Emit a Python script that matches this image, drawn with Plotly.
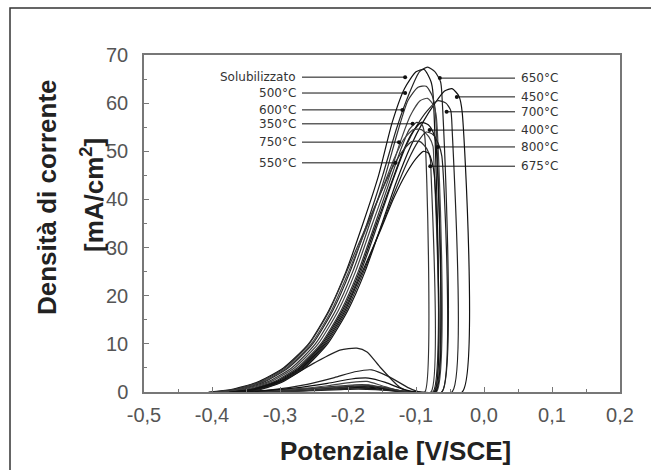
import plotly.graph_objects as go

# ---------------- data (potential V/SCE, current density mA/cm2) ----------------
E_sol = [-0.405, -0.372, -0.334, -0.295, -0.258, -0.228, -0.203, -0.178, -0.155, -0.135, -0.117, -0.100, -0.088, -0.078, -0.075, -0.075,
         -0.10, -0.12, -0.14, -0.17, -0.20, -0.24, -0.29, -0.35, -0.40]
I_sol = [0, 0.5, 2, 5, 10, 17, 25, 35, 45, 56, 63, 66.5, 67, 64.5, 62, 0,
         0, 0.1, 0.5, 1.0, 1.1, 0.8, 0.4, 0.1, 0]

E_650 = [-0.395, -0.362, -0.325, -0.288, -0.252, -0.222, -0.197, -0.172, -0.149, -0.128, -0.110, -0.095, -0.083, -0.072, -0.064, -0.062, -0.062,
         -0.105, -0.124, -0.153, -0.172, -0.187, -0.212, -0.25, -0.29, -0.33, -0.38]
I_650 = [0, 0.5, 2, 5, 10, 17, 25, 35, 45, 55, 62, 66.5, 67.5, 66.5, 64.5, 62, 0,
         0, 1.0, 5.2, 8.3, 9.1, 8.7, 6.0, 2.8, 0.9, 0.1]

E_500 = [-0.39, -0.357, -0.32, -0.283, -0.248, -0.218, -0.193, -0.168, -0.145, -0.127, -0.112, -0.097, -0.085, -0.076, -0.072, -0.072,
         -0.10, -0.12, -0.15, -0.175, -0.20, -0.24, -0.29, -0.34, -0.39]
I_500 = [0, 0.5, 2, 5, 10, 17, 25, 35, 45, 54, 60.5, 63.3, 63.5, 61.5, 59, 0,
         0, 0.2, 0.9, 1.5, 1.4, 0.9, 0.4, 0.1, 0]

E_450 = [-0.36, -0.33, -0.298, -0.264, -0.23, -0.2, -0.175, -0.15, -0.128, -0.108, -0.09, -0.072, -0.058, -0.047, -0.037, -0.032, -0.032,
         -0.09, -0.12, -0.145, -0.17, -0.20, -0.24, -0.29, -0.34]
I_450 = [0, 0.5, 2, 5, 10, 17, 25, 35, 44, 51, 56, 60, 62.5, 63, 61.5, 58, 0,
         0, 0.2, 0.7, 1.2, 1.0, 0.6, 0.2, 0]

E_600 = [-0.385, -0.352, -0.316, -0.279, -0.244, -0.214, -0.189, -0.164, -0.141, -0.123, -0.108, -0.094, -0.083, -0.074, -0.070, -0.070,
         -0.10, -0.125, -0.15, -0.172, -0.195, -0.23, -0.28, -0.33, -0.38]
I_600 = [0, 0.5, 2, 5, 10, 17, 25, 35, 44, 52, 57.5, 60.5, 61, 59.5, 57, 0,
         0, 0.3, 1.3, 2.2, 2.0, 1.3, 0.6, 0.2, 0]

E_700 = [-0.37, -0.338, -0.305, -0.27, -0.236, -0.206, -0.181, -0.156, -0.134, -0.115, -0.098, -0.083, -0.068, -0.056, -0.049, -0.047, -0.047,
         -0.095, -0.11, -0.14, -0.165, -0.19, -0.22, -0.26, -0.31, -0.36]
I_700 = [0, 0.5, 2, 5, 10, 17, 25, 35, 44, 51, 55.5, 58.5, 60.5, 60, 58.5, 55, 0,
         0, 0.8, 3.2, 4.6, 4.2, 3.0, 1.6, 0.5, 0]

E_350 = [-0.38, -0.347, -0.311, -0.275, -0.24, -0.21, -0.185, -0.16, -0.138, -0.122, -0.11, -0.099, -0.091, -0.087, -0.087,
         -0.10, -0.13, -0.16, -0.185, -0.21, -0.25, -0.30, -0.36]
I_350 = [0, 0.5, 2, 5, 10, 17, 25, 35, 44, 50.5, 54.5, 56, 55.5, 53, 0,
         0, 0.2, 0.6, 0.8, 0.7, 0.4, 0.1, 0]

E_400 = [-0.375, -0.343, -0.308, -0.272, -0.238, -0.208, -0.183, -0.158, -0.136, -0.119, -0.105, -0.092, -0.082, -0.075, -0.071, -0.071,
         -0.10, -0.13, -0.16, -0.185, -0.21, -0.25, -0.30, -0.36]
I_400 = [0, 0.5, 2, 5, 10, 17, 25, 35, 43.5, 50, 54, 56, 55.5, 54, 52, 0,
         0, 0.2, 0.7, 0.9, 0.8, 0.5, 0.1, 0]

E_750 = [-0.395, -0.365, -0.328, -0.29, -0.254, -0.224, -0.199, -0.173, -0.15, -0.132, -0.118, -0.104, -0.092, -0.081, -0.075, -0.074, -0.074,
         -0.105, -0.125, -0.15, -0.17, -0.19, -0.22, -0.26, -0.31, -0.36]
I_750 = [0, 0.5, 2, 5, 10, 17, 25, 34, 42, 48.5, 52.5, 54.5, 54.5, 53, 51, 49, 0,
         0, 0.3, 1.0, 1.5, 1.4, 1.0, 0.5, 0.1, 0]

E_800 = [-0.365, -0.333, -0.3, -0.266, -0.232, -0.202, -0.177, -0.152, -0.13, -0.112, -0.097, -0.085, -0.075, -0.067, -0.062, -0.062,
         -0.10, -0.13, -0.16, -0.185, -0.21, -0.25, -0.30, -0.35]
I_800 = [0, 0.5, 2, 5, 10, 17, 25, 34, 42, 48, 52, 54, 53.5, 51.5, 49, 0,
         0, 0.2, 0.5, 0.6, 0.5, 0.3, 0.1, 0]

E_550 = [-0.40, -0.368, -0.331, -0.293, -0.257, -0.227, -0.202, -0.176, -0.153, -0.135, -0.12, -0.106, -0.094, -0.084, -0.079, -0.078, -0.078,
         -0.105, -0.125, -0.15, -0.175, -0.20, -0.24, -0.29, -0.35]
I_550 = [0, 0.5, 2, 5, 10, 17, 25, 33.5, 41, 46.5, 50, 52, 52, 50.5, 48.5, 46, 0,
         0, 0.3, 1.0, 1.3, 1.0, 0.5, 0.1, 0]

E_675 = [-0.37, -0.338, -0.303, -0.268, -0.234, -0.204, -0.179, -0.154, -0.132, -0.114, -0.1, -0.089, -0.081, -0.076, -0.073, -0.073,
         -0.10, -0.12, -0.145, -0.17, -0.195, -0.23, -0.28, -0.33, -0.37]
I_675 = [0, 0.5, 2, 5, 10, 17, 25, 33, 40.5, 45.5, 48.5, 50, 49.5, 47.5, 45, 0,
         0, 0.6, 2.0, 2.9, 2.7, 1.8, 0.8, 0.2, 0]

# label texts and the curve points they point at
left_labels = ["Solubilizzato", "500°C", "600°C", "350°C", "750°C", "550°C"]
left_label_E = [-0.116, -0.116, -0.12, -0.105, -0.125, -0.13]
left_label_I = [65.4, 62.1, 58.6, 55.7, 51.9, 47.6]

right_labels = ["650°C", "450°C", "700°C", "400°C", "800°C", "675°C"]
right_label_E = [-0.065, -0.04, -0.055, -0.08, -0.068, -0.079]
right_label_I = [65.2, 61.3, 58.2, 54.4, 50.9, 46.9]

x_tick_vals = [-0.5, -0.4, -0.3, -0.2, -0.1, 0.0, 0.1, 0.2]
x_tick_text = ["-0,5", "-0,4", "-0,3", "-0,2", "-0,1", "0,0", "0,1", "0,2"]
y_tick_vals = [0, 10, 20, 30, 40, 50, 60, 70]

series = [
    ("Solubilizzato", E_sol, I_sol), ("650°C", E_650, I_650), ("500°C", E_500, I_500),
    ("450°C", E_450, I_450), ("600°C", E_600, I_600), ("700°C", E_700, I_700),
    ("350°C", E_350, I_350), ("400°C", E_400, I_400), ("750°C", E_750, I_750),
    ("800°C", E_800, I_800), ("550°C", E_550, I_550), ("675°C", E_675, I_675),
]

# ---------------- figure ----------------
W, H = 651, 470
L, R, T, B = 144, 620, 55, 392   # plot area in pixels
XMIN, XMAX, YMIN, YMAX = -0.5, 0.2, 0, 70


def px_to_x(px):
    return XMIN + (px - L) / (R - L) * (XMAX - XMIN)


def px_to_paper_x(px):
    return (px - L) / (R - L)


def py_to_paper_y(py):
    return (B - py) / (B - T)


fig = go.Figure()
line_colors = ["#111111", "#222222", "#333333", "#111111", "#444444", "#222222",
               "#333333", "#111111", "#444444", "#222222", "#333333", "#111111"]
for (name, ex, iy), col in zip(series, line_colors):
    fig.add_trace(go.Scatter(x=ex, y=iy, mode="lines", name=name,
                             line=dict(color=col, width=1.2, shape="spline", smoothing=0.6),
                             hoverinfo="skip", showlegend=False))

# leader lines
x_left_start = px_to_x(302)
x_right_end = px_to_x(515)
shapes = []
for e, i in zip(left_label_E, left_label_I):
    shapes.append(dict(type="line", xref="x", yref="y", x0=x_left_start, x1=e, y0=i, y1=i,
                       line=dict(color="#111", width=1)))
for e, i in zip(right_label_E, right_label_I):
    shapes.append(dict(type="line", xref="x", yref="y", x0=e, x1=x_right_end, y0=i, y1=i,
                       line=dict(color="#111", width=1)))

# outer frame
shapes.append(dict(type="rect", xref="paper", yref="paper",
                   x0=px_to_paper_x(10), x1=px_to_paper_x(720),
                   y0=py_to_paper_y(540), y1=py_to_paper_y(8),
                   line=dict(color="#333", width=1.5), fillcolor="rgba(0,0,0,0)", layer="below"))

fig.add_trace(go.Scatter(x=left_label_E + right_label_E, y=left_label_I + right_label_I, mode="markers",
                         marker=dict(color="#111", size=4), hoverinfo="skip", showlegend=False))

annotations = []
lab_font = dict(family="DejaVu Sans", size=12, color="#333")
for t, i in zip(left_labels, left_label_I):
    annotations.append(dict(x=px_to_x(298), y=i, xref="x", yref="y", text=t, showarrow=False,
                            xanchor="right", yanchor="middle", font=lab_font))
for t, i in zip(right_labels, right_label_I):
    annotations.append(dict(x=px_to_x(519), y=i, xref="x", yref="y", text=t, showarrow=False,
                            xanchor="left", yanchor="middle", font=lab_font))

title_font = dict(family="Liberation Sans", size=26, color="#222")
annotations.append(dict(x=px_to_paper_x(47), y=py_to_paper_y(197), xref="paper", yref="paper",
                        text="<b>Densità di corrente</b>", textangle=-90, showarrow=False,
                        xanchor="center", yanchor="middle", font=title_font))
annotations.append(dict(x=px_to_paper_x(92), y=py_to_paper_y(195), xref="paper", yref="paper",
                        text="<b>[mA/cm<sup>2</sup>]</b>", textangle=-90, showarrow=False,
                        xanchor="center", yanchor="middle", font=title_font))
annotations.append(dict(x=px_to_paper_x(395), y=py_to_paper_y(451), xref="paper", yref="paper",
                        text="<b>Potenziale [V/SCE]</b>", showarrow=False,
                        xanchor="center", yanchor="middle", font=title_font))

axis_col = "#777"
tick_font = dict(family="Liberation Sans", size=20, color="#555")
fig.update_layout(
    width=W, height=H,
    margin=dict(l=L, r=W - R, t=T, b=H - B, pad=0),
    paper_bgcolor="white", plot_bgcolor="white",
    shapes=shapes, annotations=annotations,
    xaxis=dict(range=[XMIN, XMAX], tickmode="array", tickvals=x_tick_vals, ticktext=x_tick_text,
               ticks="inside", ticklen=5, tickwidth=1.2, tickcolor=axis_col,
               minor=dict(tickvals=[-0.45, -0.35, -0.25, -0.15, -0.05, 0.05, 0.15],
                          ticks="inside", ticklen=3, tickcolor=axis_col, tickwidth=1),
               showline=True, linecolor=axis_col, linewidth=1.5, mirror=True,
               showgrid=False, zeroline=False, tickfont=tick_font, ticklabelstandoff=4),
    yaxis=dict(range=[YMIN, YMAX], tickmode="array", tickvals=y_tick_vals,
               ticks="inside", ticklen=5, tickwidth=1.2, tickcolor=axis_col,
               minor=dict(tickvals=[5, 15, 25, 35, 45, 55, 65],
                          ticks="inside", ticklen=3, tickcolor=axis_col, tickwidth=1),
               showline=True, linecolor=axis_col, linewidth=1.5, mirror=True,
               showgrid=False, zeroline=False, tickfont=tick_font, ticklabelstandoff=10),
)

# remove the default 8px page margin so the figure sits at the window's top-left corner
fig.write_html("out.html", config={"displayModeBar": False},
               post_script="document.body.style.margin='0';document.body.style.overflow='hidden';")
